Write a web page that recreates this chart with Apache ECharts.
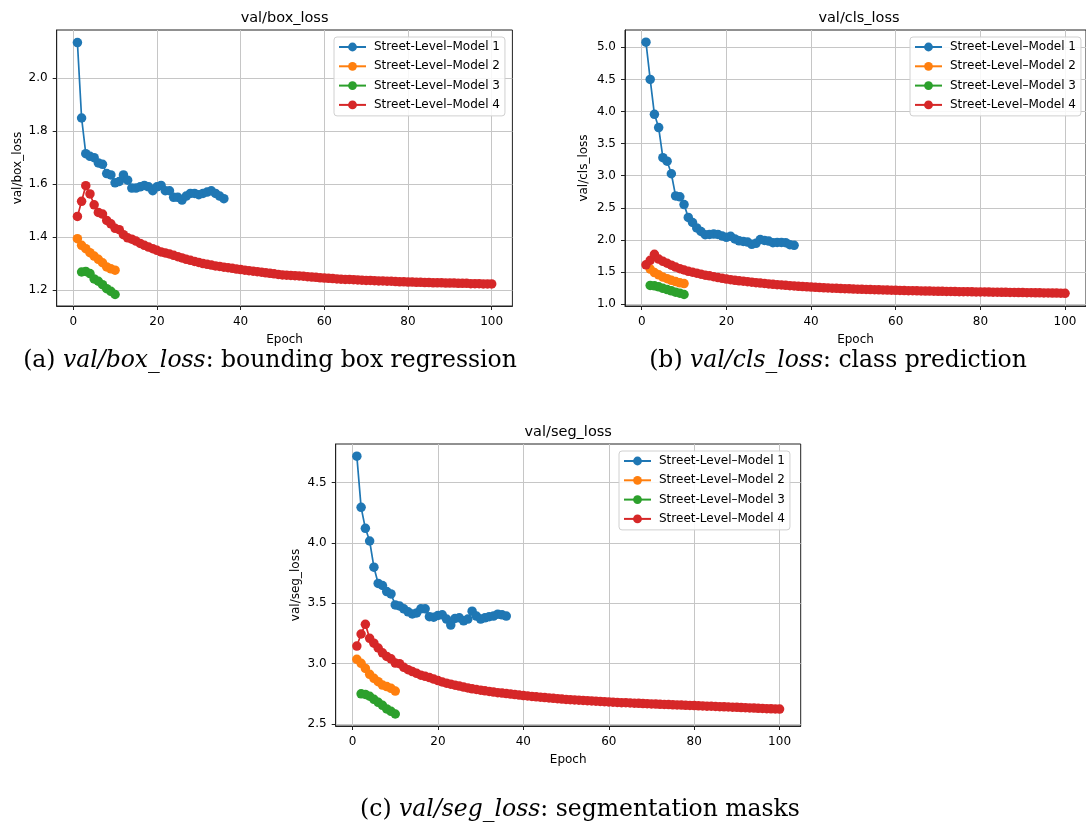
<!DOCTYPE html>
<html>
<head>
<meta charset="utf-8">
<script src="https://cdn.jsdelivr.net/npm/echarts@6/dist/echarts.min.js"></script>
<style>
html,body{margin:0;padding:0;background:#fff;}
#c{width:1086px;height:823px;}
</style>
</head>
<body>
<div id="c"></div>
<script>
// ---------- data ----------
const seriesNames = ['Street-Level\u2013Model 1', 'Street-Level\u2013Model 2', 'Street-Level\u2013Model 3', 'Street-Level\u2013Model 4'];
const startEpochs = [1, 1, 2, 1];           // first epoch of each model (box / seg)
const clsStartEpochs = [1, 2, 2, 1];        // first visible epoch of each model (cls)
const xTicks = [0, 20, 40, 60, 80, 100];

const boxTicks = [1.2, 1.4, 1.6, 1.8, 2.0];
const clsTicks = [1.0, 1.5, 2.0, 2.5, 3.0, 3.5, 4.0, 4.5, 5.0];
const segTicks = [2.5, 3.0, 3.5, 4.0, 4.5];

const boxM1 = [2.135,1.850,1.715,1.705,1.700,1.680,1.675,1.640,1.635,1.605,1.610,1.635,1.615,1.585,1.585,1.590,1.595,1.590,1.575,1.590,1.595,1.575,1.575,1.550,1.550,1.540,1.555,1.565,1.565,1.560,1.565,1.570,1.575,1.565,1.555,1.545];
const boxM2 = [1.394,1.369,1.356,1.341,1.328,1.316,1.303,1.287,1.280,1.275];
const boxM3 = [1.268,1.270,1.262,1.242,1.233,1.220,1.205,1.195,1.183];
const boxM4 = [1.478,1.535,1.594,1.563,1.522,1.493,1.487,1.463,1.450,1.433,
  1.428,1.409,1.397,1.392,1.385,1.376,1.369,1.362,1.356,1.350,
  1.344,1.340,1.336,1.331,1.326,1.321,1.316,1.312,1.308,1.304,
  1.300,1.297,1.294,1.291,1.289,1.286,1.284,1.282,1.279,1.277,
  1.275,1.273,1.271,1.269,1.267,1.265,1.263,1.261,1.259,1.257,
  1.256,1.255,1.254,1.253,1.252,1.250,1.249,1.248,1.246,1.245,
  1.244,1.243,1.242,1.241,1.240,1.240,1.239,1.238,1.237,1.236,
  1.236,1.235,1.234,1.234,1.233,1.233,1.232,1.231,1.231,1.230,
  1.230,1.229,1.229,1.228,1.228,1.227,1.227,1.227,1.226,1.226,
  1.226,1.225,1.225,1.225,1.224,1.224,1.224,1.223,1.223,1.223];

const clsM1 = [5.08,4.50,3.956,3.75,3.28,3.225,3.03,2.685,2.67,2.55,2.35,2.27,2.185,2.13,2.08,2.085,2.09,2.085,2.06,2.04,2.055,2.015,1.985,1.975,1.965,1.93,1.945,2.005,1.99,1.98,1.955,1.96,1.96,1.955,1.925,1.915];
const clsM2 = [1.545,1.49,1.455,1.42,1.395,1.37,1.35,1.33,1.318];
const clsM3 = [1.29,1.283,1.268,1.245,1.225,1.205,1.185,1.168,1.148];
const clsM4 = [1.61,1.68,1.775,1.70,1.665,1.635,1.605,1.575,1.55,1.53,
  1.51,1.495,1.48,1.465,1.45,1.44,1.425,1.412,1.40,1.388,
  1.378,1.37,1.362,1.355,1.348,1.34,1.333,1.326,1.32,1.313,
  1.307,1.301,1.296,1.291,1.286,1.281,1.276,1.272,1.268,1.264,
  1.26,1.256,1.253,1.25,1.247,1.244,1.241,1.238,1.236,1.233,
  1.231,1.229,1.227,1.225,1.223,1.221,1.219,1.217,1.215,1.213,
  1.211,1.21,1.208,1.207,1.205,1.204,1.202,1.201,1.2,1.198,
  1.197,1.196,1.195,1.194,1.193,1.192,1.191,1.19,1.189,1.188,
  1.187,1.186,1.185,1.184,1.183,1.182,1.181,1.18,1.179,1.178,
  1.177,1.176,1.175,1.174,1.173,1.172,1.171,1.17,1.168,1.166];

const segM1 = [4.72,4.296,4.122,4.017,3.80,3.665,3.648,3.598,3.578,3.487,3.478,3.455,3.43,3.412,3.42,3.455,3.455,3.39,3.385,3.40,3.405,3.37,3.32,3.375,3.38,3.355,3.37,3.435,3.395,3.37,3.38,3.39,3.395,3.41,3.405,3.395];
const segM2 = [3.036,3.003,2.961,2.912,2.879,2.851,2.823,2.81,2.796,2.773];
const segM3 = [2.75,2.745,2.73,2.705,2.68,2.655,2.625,2.605,2.583];
const segM4 = [3.146,3.246,3.326,3.21,3.17,3.13,3.09,3.06,3.04,3.005,
  3.0,2.97,2.95,2.935,2.92,2.905,2.895,2.885,2.872,2.86,
  2.848,2.838,2.83,2.822,2.814,2.806,2.799,2.792,2.786,2.78,
  2.775,2.77,2.765,2.76,2.756,2.752,2.748,2.744,2.74,2.736,
  2.732,2.728,2.725,2.722,2.719,2.716,2.713,2.71,2.707,2.704,
  2.701,2.699,2.697,2.695,2.693,2.691,2.689,2.687,2.685,2.683,
  2.681,2.679,2.677,2.676,2.674,2.672,2.671,2.669,2.668,2.666,
  2.665,2.663,2.662,2.661,2.659,2.658,2.657,2.655,2.654,2.653,
  2.651,2.65,2.648,2.647,2.645,2.644,2.642,2.641,2.639,2.638,
  2.636,2.635,2.633,2.632,2.63,2.629,2.627,2.626,2.625,2.624];

const colors = ['#1f77b4', '#ff7f0e', '#2ca02c', '#d62728'];

// ---------- layout ----------
const panels = [
  {title:'val/box_loss', yName:'val/box_loss', grid:{left:56.7, top:30, width:455.7, height:276}, yMin:1.1395, yMax:2.1825, ticks:boxTicks, dec:1, data:[boxM1,boxM2,boxM3,boxM4], starts:startEpochs, nameGap:33, legend:{left:334, top:37}},
  {title:'val/cls_loss', yName:'val/cls_loss', grid:{left:625, top:30, width:468, height:276}, yMin:0.969, yMax:5.27, ticks:clsTicks, dec:1, data:[clsM1,clsM2,clsM3,clsM4], starts:clsStartEpochs, nameGap:35, legend:{left:910, top:37}},
  {title:'val/seg_loss', yName:'val/seg_loss', grid:{left:335.7, top:444, width:465, height:282}, yMin:2.4834, yMax:4.821, ticks:segTicks, dec:1, data:[segM1,segM2,segM3,segM4], starts:startEpochs, nameGap:34, legend:{left:619, top:451}}
];

const font = 'DejaVu Sans';
const option = {
  animation:false,
  backgroundColor:'#fff',
  title:[], grid:[], xAxis:[], yAxis:[], series:[], legend:[],
  graphic:[]
};

panels.forEach((p, gi) => {
  option.grid.push(Object.assign({show:true, borderColor:'#222', borderWidth:1, backgroundColor:'transparent', containLabel:false}, p.grid));
  option.title.push({text:p.title, left:p.grid.left + p.grid.width/2, top:p.grid.top - 19.5, textAlign:'center', padding:0,
    textStyle:{fontFamily:font, fontSize:14.5, fontWeight:'normal', color:'#000'}});
  option.xAxis.push({type:'value', gridIndex:gi, min:-3.95, max:104.95,
    name:'Epoch', nameLocation:'middle', nameGap:28, nameTextStyle:{fontFamily:font, fontSize:12, color:'#000'},
    axisLine:{show:true, onZero:false, lineStyle:{color:'#222', width:1}},
    axisTick:{show:true, customValues:xTicks, length:4, lineStyle:{color:'#222', width:1}},
    axisLabel:{customValues:xTicks, fontFamily:font, fontSize:12, color:'#000', margin:10},
    splitLine:{show:true, lineStyle:{color:'#c6c6c6', width:1}}});
  option.yAxis.push({type:'value', gridIndex:gi, min:p.yMin, max:p.yMax,
    name:p.yName, nameLocation:'middle', nameGap:p.nameGap, nameRotate:90, nameTextStyle:{fontFamily:font, fontSize:12, color:'#000'},
    axisLine:{show:true, onZero:false, lineStyle:{color:'#222', width:1}},
    axisTick:{show:true, customValues:p.ticks, length:4, lineStyle:{color:'#222', width:1}},
    axisLabel:{customValues:p.ticks, fontFamily:font, fontSize:12, color:'#000', margin:9, formatter:v => v.toFixed(p.dec)},
    splitLine:{show:true, lineStyle:{color:'#c6c6c6', width:1}}});
  p.data.forEach((arr, si) => {
    option.series.push({type:'line', name:seriesNames[si], xAxisIndex:gi, yAxisIndex:gi,
      data:arr.map((v, i) => [i + p.starts[si], v]),
      symbol:'circle', symbolSize:9.5, showAllSymbol:true, z: 2 + si,
      lineStyle:{color:colors[si], width:1.7}, itemStyle:{color:colors[si], borderWidth:0},
      emphasis:{disabled:true}});
  });
  option.legend.push({orient:'vertical', left:p.legend.left, top:p.legend.top, data:seriesNames,
    itemWidth:27, itemHeight:11, itemGap:7.3, padding:[4, 5, 5, 4],
    borderColor:'#d0d0d0', borderWidth:1, borderRadius:3, backgroundColor:'rgba(255,255,255,0.85)',
    textStyle:{fontFamily:font, fontSize:12, color:'#000', padding:[0,0,0,3]}, selectedMode:false});
});

const capFont = 'DejaVu Serif';
function caption(x, y, label, ital, rest){
  return {type:'text', x:x, y:y, style:{
    text:'{n|' + label + ' }{i|' + ital + '}{n|' + rest + '}',
    align:'center', verticalAlign:'middle',
    rich:{n:{fontFamily:capFont, fontSize:23.5, color:'#000'}, i:{fontFamily:capFont, fontSize:23.5, fontStyle:'italic', color:'#000'}}
  }};
}
option.graphic.push(caption(270, 361, '(a)', 'val/box_loss', ': bounding box regression'));
option.graphic.push(caption(838, 361, '(b)', 'val/cls_loss', ': class prediction'));
option.graphic.push(caption(580, 810, '(c)', 'val/seg_loss', ': segmentation masks'));

const chart = echarts.init(document.getElementById('c'), null, {renderer:'canvas'});
chart.setOption(option);
</script>
</body>
</html>
